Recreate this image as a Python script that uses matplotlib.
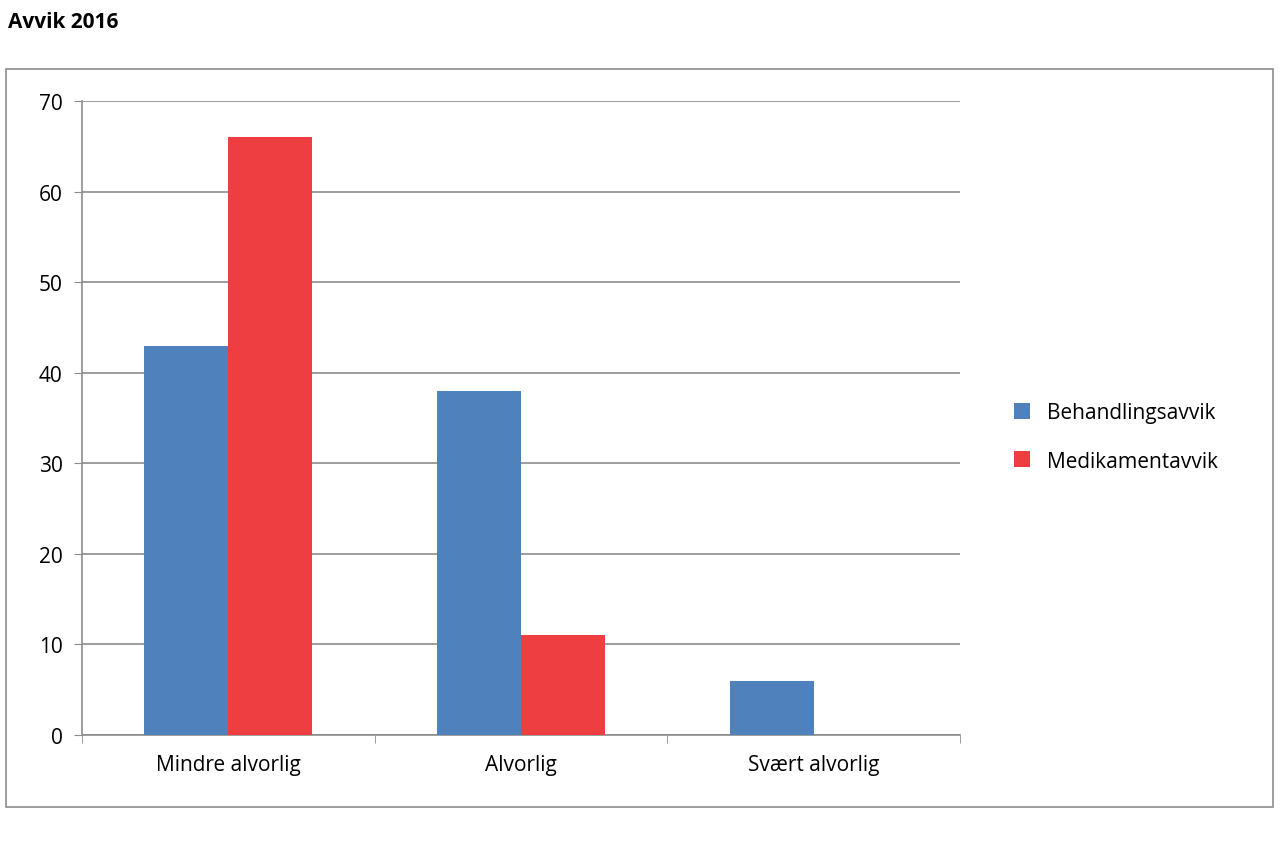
import matplotlib
matplotlib.use("Agg")
import matplotlib.pyplot as plt
from matplotlib.patches import Rectangle
import numpy as np

categories = ["Mindre alvorlig", "Alvorlig", "Svært alvorlig"]
behandling = [43, 38, 6]
medikament = [66, 11, 0]
series_names = ["Behandlingsavvik", "Medikamentavvik"]
yticks = [0, 10, 20, 30, 40, 50, 60, 70]

plt.rcParams["font.family"] = "Open Sans"
W, H = 1280, 853
fig = plt.figure(figsize=(12.8, 8.53), dpi=100)
fig.patches.append(Rectangle((6/W, 1-808/H), (1273-6)/W, (808-70)/H, transform=fig.transFigure,
                             fill=False, edgecolor="#8c8c8c", linewidth=1.2))
fig.text(8/W, 1-22/H, "Avvik 2016", fontsize=15, fontweight="bold", va="center", ha="left")

ax = fig.add_axes([82/W, 1-736/H, (960-82)/W, (736-102)/H])
x = np.arange(len(categories))
w = 84/293
ax.bar(x - w/2, behandling, w, color="#4f81bd", label=series_names[0], zorder=3)
ax.bar(x + w/2, medikament, w, color="#ef3e42", label=series_names[1], zorder=3)
ax.set_xlim(-0.5, len(categories) - 0.5)
ax.set_ylim(0, 70)
ax.set_yticks(yticks)
ax.yaxis.grid(True, color="#8c8c8c", linewidth=1.2, zorder=0)
ax.set_xticks(x)
ax.set_xticklabels(categories, fontsize=15)
ax.set_xticks(np.arange(len(categories)+1) - 0.5, minor=True)
ax.tick_params(axis="x", which="major", length=0, pad=14)
ax.tick_params(axis="x", which="minor", length=6, color="#8c8c8c", direction="out")
ax.tick_params(axis="y", length=6, color="#8c8c8c", labelsize=15, pad=8)
for s in ["top", "right"]:
    ax.spines[s].set_visible(False)
for s in ["left", "bottom"]:
    ax.spines[s].set_color("#8c8c8c")
    ax.spines[s].set_linewidth(1.2)
ax.legend(loc="center left", bbox_to_anchor=(995/W, 1-438/H), bbox_transform=fig.transFigure,
          frameon=False, fontsize=15, handlelength=0.8, handleheight=0.8, labelspacing=1.3)
fig.savefig("out.png", dpi=100)
